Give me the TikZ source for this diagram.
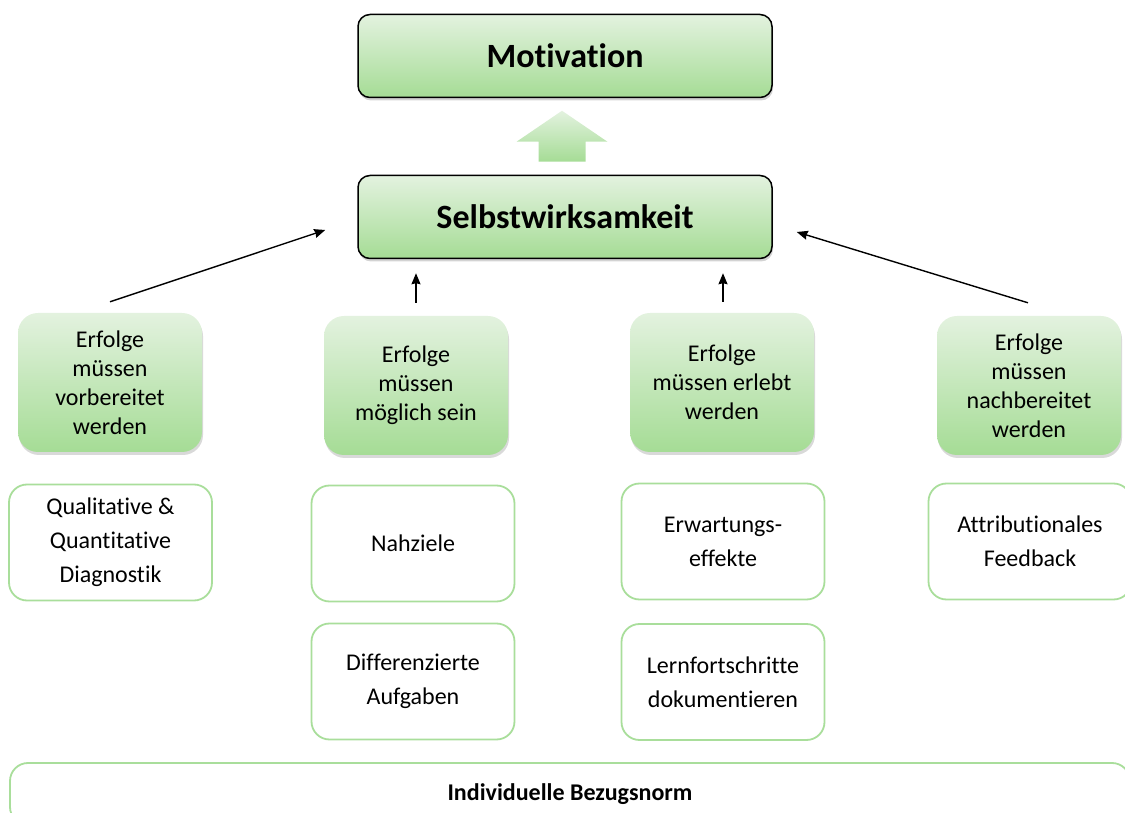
\documentclass[tikz,border=0pt]{standalone}
\usepackage{fontspec}
\setmainfont{Carlito}[Ligatures=NoCommon]
\usetikzlibrary{arrows.meta,positioning,shadows,calc}

\begin{document}
\begin{tikzpicture}[x=1pt,y=1pt,
  headbox/.style={draw=black,line width=1.5pt,rounded corners=12pt,
    top color=lightgreen,bottom color=midgreen,minimum width=414pt,minimum height=83pt,
    drop shadow={shadow xshift=1pt,shadow yshift=-3pt,opacity=0.35},
    font=\bfseries\fontsize{34}{40}\selectfont},
  goalbox/.style={rounded corners=20pt,top color=lightgreen,bottom color=midgreen,
    minimum width=184pt,minimum height=139pt,align=center,inner sep=2pt,
    drop shadow={shadow xshift=1pt,shadow yshift=-3pt,opacity=0.3},
    font=\fontsize{24}{29}\selectfont},
  toolbox/.style={draw=framegreen,line width=1.8pt,rounded corners=18pt,fill=white,
    minimum width=203pt,minimum height=116pt,align=center,
    font=\fontsize{24}{34}\selectfont},
  arr/.style={-{Stealth[length=11pt,width=9pt,inset=1pt]},line width=1.4pt}]
\definecolor{lightgreen}{HTML}{E3F2DF}
\definecolor{midgreen}{HTML}{A5DC95}
\definecolor{framegreen}{HTML}{A9DE9B}
\useasboundingbox (0,0) rectangle (1125,812);
\clip (0,0) rectangle (1125,812);

% top
\node[headbox] (mot) at (565,756) {Motivation};
\node[headbox] (selbst) at (565,595) {Selbstwirksamkeit};
\coordinate (ab) at ($(selbst.north)+(-3,13)$);
\shade[top color=lightgreen,bottom color=midgreen]
  ($(ab)+(-23.5,0)$) -- ++(0,20) -- ++(-22,0) -- ($(ab)+(0,51)$)
  -- ($(ab)+(45.5,20)$) -- ++(-22,0) -- ++(0,-20) -- cycle;

% conditions
\node[goalbox] (g1) at (110,429.5) {Erfolge\\müssen\\vorbereitet\\werden};
\node[goalbox] (g2) at (416,426.5) {Erfolge\\müssen\\möglich sein};
\node[goalbox] (g3) at (722,429.5) {Erfolge\\müssen erlebt\\werden};
\node[goalbox] (g4) at (1029,426.5) {Erfolge\\müssen\\nachbereitet\\werden};

\draw[arr] ($(g1.north)+(0,11)$) -- ($(selbst.west)+(-32,-13)$);
\draw[arr] ($(g2.north)+(0,13)$) -- ($(selbst.south)+(-149,-14)$);
\draw[arr] ($(g3.north)+(1,11)$) -- ($(selbst.south)+(158,-14)$);
\draw[arr] ($(g4.north)+(-1,13)$) -- ($(selbst.east)+(24,-15)$);

% measures
\node[toolbox] (diag) at (110.5,269.5) {Qualitative \&\\Quantitative\\Diagnostik};
\node[toolbox] (nah) at (413,268.5) {Nahziele};
\node[toolbox] (erw) at (723,270.5) {Erwartungs-\\effekte};
\node[toolbox] (feed) at (1030,270.5) {Attributionales\\Feedback};
\node[toolbox] (diff) at (413,130.5) {Differenzierte\\Aufgaben};
\node[toolbox] (lern) at (723,130) {Lernfortschritte\\dokumentieren};

% base
\node[toolbox,minimum width=1120pt,minimum height=62pt,
  font=\bfseries\fontsize{24}{28}\selectfont] (norm) at (570,18) {Individuelle Bezugsnorm};
\end{tikzpicture}
\end{document}
